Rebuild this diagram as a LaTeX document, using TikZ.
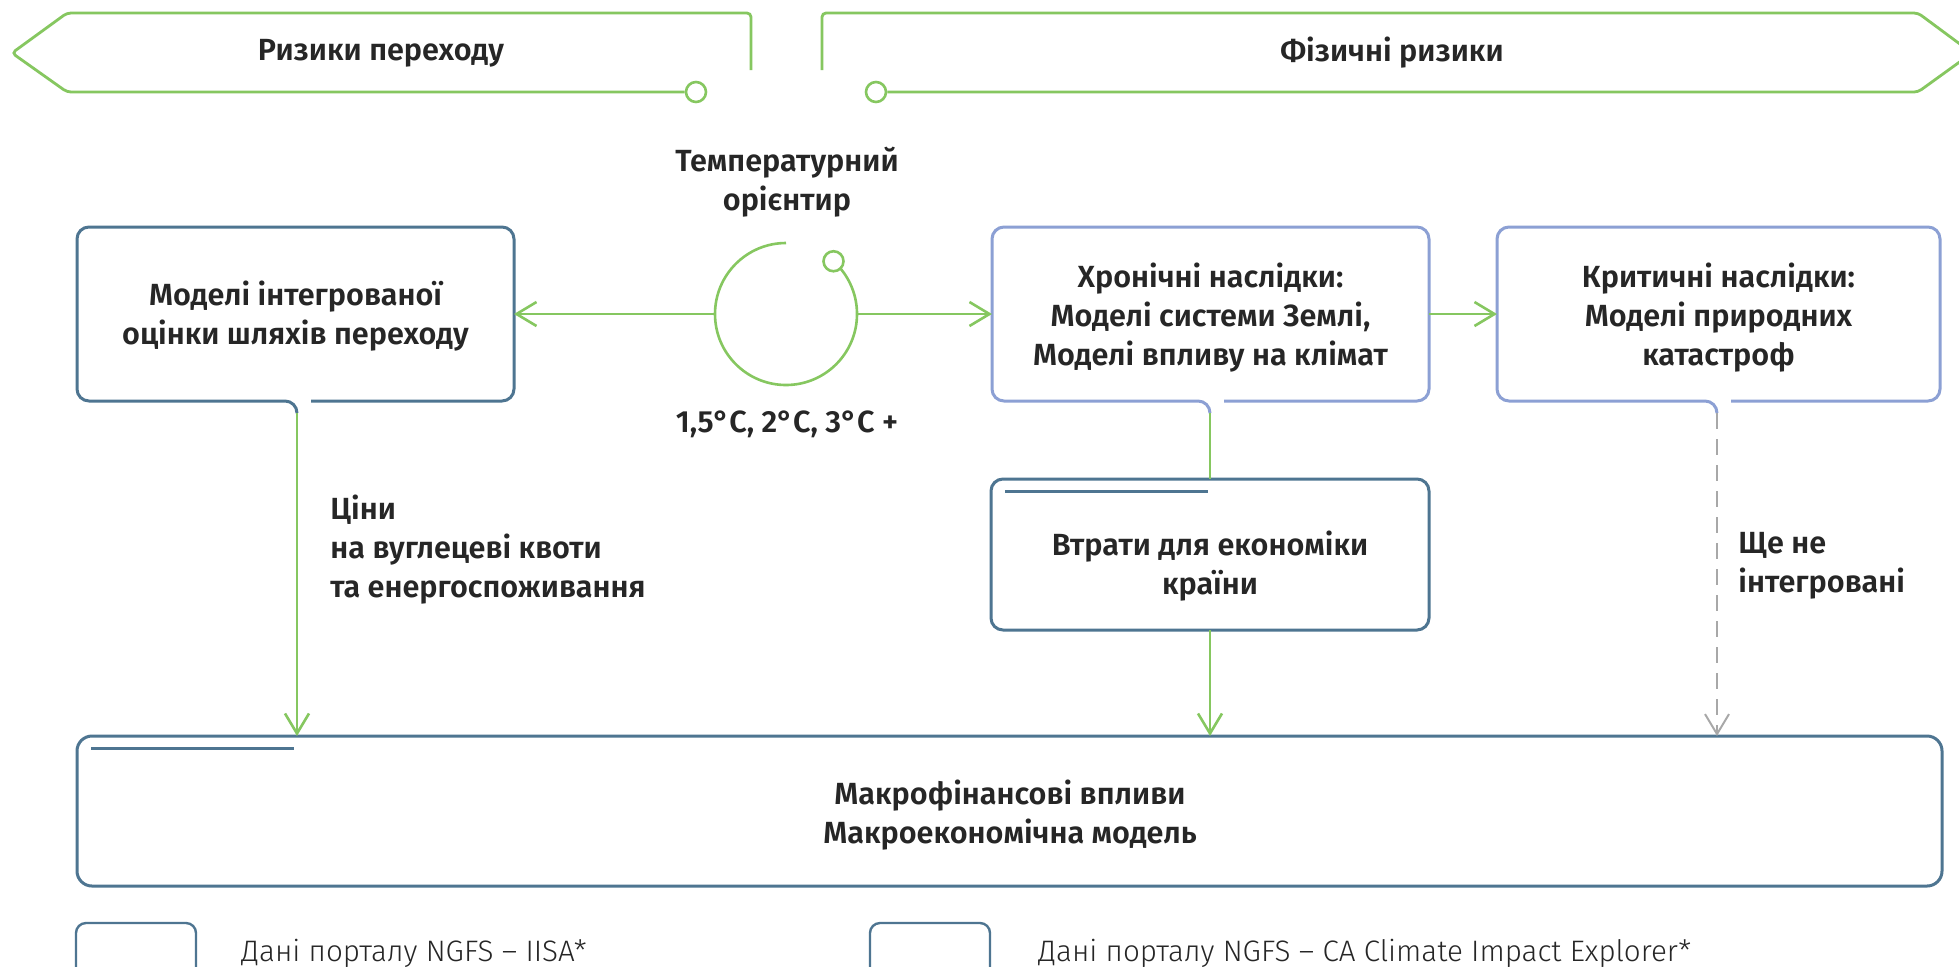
\documentclass[tikz,border=0pt]{standalone}
\usepackage{fontspec}
\setmainfont{Fira Sans}[BoldFont={Fira Sans SemiBold}]
\newfontfamily\lightfont{Fira Sans Light}
\usetikzlibrary{arrows.meta,calc}
\definecolor{gr}{RGB}{134,199,96}
\definecolor{sl}{RGB}{78,117,145}
\definecolor{pw}{RGB}{140,160,212}
\definecolor{gy}{RGB}{168,168,168}
\definecolor{tx}{RGB}{38,38,38}
\tikzset{
  shp/.style={inner sep=0, outer sep=0, draw=none},
  lab/.style={font=\bfseries\fontsize{15.3}{19.5}\selectfont, text=tx, align=center, inner sep=0},
  leg/.style={font=\lightfont\fontsize{14.8}{17}\selectfont, text=tx, inner sep=0, anchor=west},
  gline/.style={draw=gr, line width=1.3pt},
  garrow/.style={draw=gr, line width=1.3pt, -{Straight Barb[length=10pt,width=12pt]}},
  gyarrow/.style={draw=gy, line width=1pt, dash pattern=on 8pt off 5pt, -{Straight Barb[length=10pt,width=12pt]}},
  slb/.style={draw=sl, line width=1.5pt, rounded corners=6pt},
  pwb/.style={draw=pw, line width=1.5pt, rounded corners=6pt},
  bcirc/.style={circle, draw=gr, fill=white, line width=1.3pt, minimum size=10pt, inner sep=0},
}
\begin{document}
\begin{tikzpicture}[x=0.5pt,y=-0.5pt]
\useasboundingbox (0,0) rectangle (1959,966);
\clip (0,0) rectangle (1959,966);
\fill[white] (0,0) rectangle (1959,966);

% banners
\node[bcirc] (c1) at (696,92) {};
\node[bcirc] (c2) at (876,92) {};
\draw[gline, line width=1.4pt, rounded corners=2pt] (751,70) -- (751,13) -- (67,13) -- (12,53) -- (67,92) -- (c1.west);
\draw[gline, line width=1.4pt, rounded corners=2pt] (822,70) -- (822,13) -- (1918,13) -- (1972,53) -- (1918,92) -- (c2.east);
\node[lab] (bl) at (381,53) {Ризики переходу};
\node[lab] (br) at (1392,53) {Фізичні ризики};

% shape nodes
\node[shp, minimum width=218.5pt, minimum height=87pt] (A) at (295.5,314) {};
\node[shp, minimum width=218.5pt, minimum height=87pt] (B) at (1210.5,314) {};
\node[shp, minimum width=221.5pt, minimum height=87pt] (C) at (1718.5,314) {};
\node[shp, minimum width=219pt, minimum height=75.5pt] (D) at (1210,554.5) {};
\node[shp, minimum width=932.5pt, minimum height=75pt] (M) at (1009.5,811) {};
\node[shp, circle, minimum size=71pt] (T) at (786,314) {};

% box borders
\draw[slb] (311,401) -- (514,401) -- (514,227) -- (77,227) -- (77,401) -- (297,401) -- (297,413) coordinate (Aout);
\draw[pwb] (1224,401) -- (1429,401) -- (1429,227) -- (992,227) -- (992,401) -- (1210,401) -- (1210,413) coordinate (Bout);
\draw[pwb] (1731,401) -- (1940,401) -- (1940,227) -- (1497,227) -- (1497,401) -- (1717,401) -- (1717,413) coordinate (Cout);
\draw[slb] (991,479) rectangle (1429,630);
\draw[sl, line width=1.5pt] (1005,491) -- (1208,491);
\draw[slb, rounded corners=7.5pt] (77,736) rectangle (1942,886);
\draw[sl, line width=1.5pt] (91,748) -- (294,748);

% temperature circle
\draw[gline] (T.90) arc[start angle=90, end angle=400, radius=35.5pt];
\node[bcirc, fill=none] (Tk) at ($(T.center)+(48:35.5pt)$) {};

% texts
\node[lab] (At) at (295.5,316) {Моделі інтегрованої\\оцінки шляхів переходу};
\node[lab] (Bt) at (1210.5,318) {Хронічні наслідки:\\Моделі системи Землі,\\Моделі впливу на клімат};
\node[lab] (Ct) at (1718.5,318) {Критичні наслідки:\\Моделі природних\\катастроф};
\node[lab] (Dt) at (1210,566) {Втрати для економіки\\країни};
\node[lab] (Mt) at (1010,815) {Макрофінансові впливи\\Макроекономічна модель};
\node[lab] (Tt) at (787,182) {Температурний\\орієнтир};
\node[lab] (Tv) at (787,424) {1,5°C, 2°C, 3°C +};
\node[lab, align=left, anchor=west] (P) at (330,550) {Ціни\\на вуглецеві квоти\\та енергоспоживання};
\node[lab, align=left, anchor=west] (N) at (1738,566) {Ще не\\інтегровані};

% connectors
\draw[garrow] (T.west) -- (A.east);
\draw[garrow] (T.east) -- (B.west);
\draw[garrow] (B.east) -- (C.west);
\draw[garrow] (Aout) -- (Aout |- M.north);
\draw[gline] (Bout) -- (Bout |- D.north);
\draw[garrow] (D.south) -- (D.south |- M.north);
\draw[gyarrow] (Cout) -- (Cout |- M.north);

% legend
\draw[slb, line width=1.2pt, rounded corners=5pt] (76,923) rectangle (196,1000);
\draw[slb, line width=1.2pt, rounded corners=5pt] (870,923) rectangle (990,1000);
\node[leg] (L1) at (241,953) {Дані порталу NGFS – IISA*};
\node[leg] (L2) at (1038,953) {Дані порталу NGFS – CA Climate Impact Explorer*};
\end{tikzpicture}
\end{document}
